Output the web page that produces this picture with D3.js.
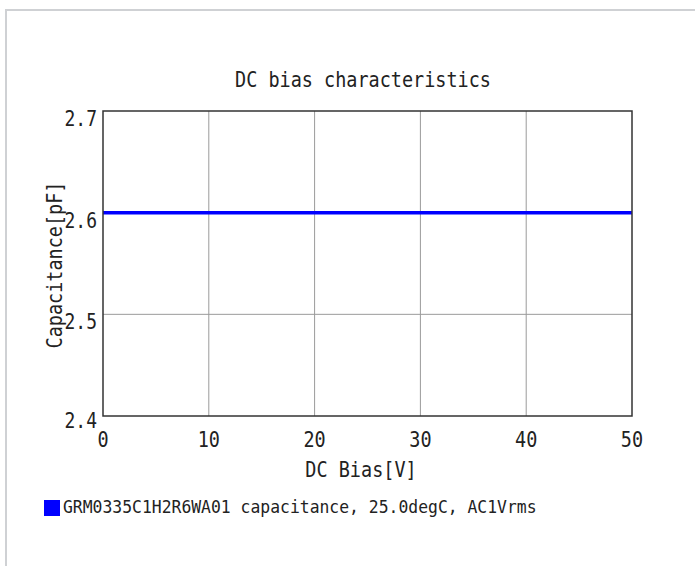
<!DOCTYPE html>
<html>
<head>
<meta charset="utf-8">
<script src="https://cdn.jsdelivr.net/npm/d3@7"></script>
<style>
  html, body { margin: 0; padding: 0; background: #fff; }
  text { font-family: "DejaVu Sans Mono", "Liberation Mono", monospace; fill: #222; }
</style>
</head>
<body>
<div id="chart"></div>
<script>
// values
const biasV = [0, 5, 10, 15, 20, 25, 30, 35, 40, 45, 50];
const capPF = [2.6, 2.6, 2.6, 2.6, 2.6, 2.6, 2.6, 2.6, 2.6, 2.6, 2.6];
const xTicks = [0, 10, 20, 30, 40, 50];
const yTicks = [2.4, 2.5, 2.6, 2.7];
const yTickLabels = ['2.4', '2.5', '2.6', '2.7'];
const seriesName = 'GRM0335C1H2R6WA01 capacitance, 25.0degC, AC1Vrms';

const W = 695, H = 566;
const m = { left: 103, top: 111, right: 632, bottom: 416 };
const stretch = 1.13; // the original font is tall and narrow

const svg = d3.select('#chart').append('svg')
  .attr('width', W)
  .attr('height', H);

// outer panel border
svg.append('rect')
  .attr('x', 6).attr('y', 10)
  .attr('width', W + 10).attr('height', H + 10)
  .attr('fill', 'none')
  .attr('stroke', '#cfd1d4')
  .attr('stroke-width', 2);

const x = d3.scaleLinear().domain([0, 50]).range([m.left, m.right]);
const y = d3.scaleLinear().domain([2.4, 2.7]).range([m.bottom, m.top]);

function label(txt, px, py, size, anchor, rotate) {
  svg.append('text')
    .attr('transform', `translate(${px},${py})${rotate ? ' rotate(-90)' : ''} scale(1,${stretch})`)
    .attr('text-anchor', anchor)
    .attr('font-size', size)
    .text(txt);
}

// grid
svg.append('g')
  .selectAll('line.v')
  .data(xTicks.slice(1, -1))
  .join('line')
  .attr('x1', d => x(d)).attr('x2', d => x(d))
  .attr('y1', m.top).attr('y2', m.bottom)
  .attr('stroke', '#9a9a9a').attr('stroke-width', 1);

svg.append('g')
  .selectAll('line.h')
  .data(yTicks.slice(1, -1))
  .join('line')
  .attr('x1', m.left).attr('x2', m.right)
  .attr('y1', d => y(d)).attr('y2', d => y(d))
  .attr('stroke', '#9a9a9a').attr('stroke-width', 1);

// data line
const line = d3.line().x((d, i) => x(biasV[i])).y(d => y(d));
svg.append('path')
  .datum(capPF)
  .attr('d', line)
  .attr('fill', 'none')
  .attr('stroke', '#0000ff')
  .attr('stroke-width', 3.5);

// frame
svg.append('rect')
  .attr('x', m.left).attr('y', m.top)
  .attr('width', m.right - m.left).attr('height', m.bottom - m.top)
  .attr('fill', 'none')
  .attr('stroke', '#333')
  .attr('stroke-width', 1.5);

// tick labels
xTicks.forEach(t => label(String(t), x(t), 447, 18.5, 'middle'));
yTicks.forEach((t, i) => label(yTickLabels[i], 97, y(t) + (i === 0 ? 12 : 15), 18, 'end'));

// titles
label('DC bias characteristics', 363, 87, 18.5, 'middle');
label('DC Bias[V]', 361, 477, 18.5, 'middle');
label('Capacitance[pF]', 62, 265, 18.5, 'middle', true);

// legend
svg.append('rect')
  .attr('x', 44).attr('y', 500)
  .attr('width', 16).attr('height', 16)
  .attr('fill', '#0000ff');
label(seriesName, 63, 513, 16.4, 'start');
</script>
</body>
</html>
